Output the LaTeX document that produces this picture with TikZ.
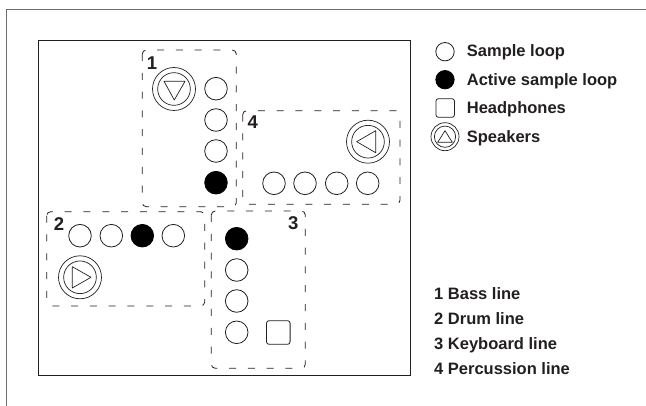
\documentclass[tikz,border=0pt]{standalone}
\usepackage{fontspec}
\setmainfont{Liberation Sans}
\definecolor{ink}{HTML}{231F20}
\tikzset{
  loopc/.style={circle,draw=ink,line width=0.8pt,minimum size=22.6pt,inner sep=0pt},
  active/.style={loopc,fill=black,draw=black},
  legc/.style={circle,draw=ink,line width=0.8pt,minimum size=18.4pt,inner sep=0pt},
  lega/.style={legc,fill=black,draw=black},
  zone/.style={draw=ink,line width=0.8pt,dash pattern=on 7pt off 11.8pt,rounded corners=4pt},
  frame/.style={draw=ink!65,line width=1.3pt},
  inner frame/.style={draw=ink,line width=1pt},
  lab/.style={font=\bfseries\fontsize{18.5pt}{20pt}\selectfont,text=ink,inner sep=0pt},
  txt/.style={font=\bfseries\fontsize{16.5pt}{18pt}\selectfont,text=ink,inner sep=0pt,anchor=base west},
  hp/.style={draw=ink,line width=0.8pt,rounded corners=2.5pt},
  spk/.style={draw=ink,line width=0.7pt},
}
\newcommand{\spkr}[3]{% name, centre, outer size
  \node[circle,spk,minimum size=#3pt,inner sep=0pt] (#1) at (#2) {};
  \node[circle,spk,minimum size=0.76*#3pt,inner sep=0pt] (#1i) at (#2) {};
}
\begin{document}
\begin{tikzpicture}[x=1pt,y=-1pt]
\useasboundingbox (0,0) rectangle (646,406);
\fill[white] (0,0) rectangle (646,406);
\draw[frame] (646,9.5) -- (6.5,9.5) -- (6.5,406);
\draw[inner frame] (38,41) rectangle (410,376);
\draw[zone] (142.3,50) rectangle (236.3,206.7);
\draw[zone] (242.7,110.7) rectangle (400,204.3);
\draw[zone] (46.7,211.7) rectangle (204.7,306);
\draw[zone] (211.3,211) rectangle (305.3,368.3);
\node[lab] (n1) at (152,62.7) {1};
\spkr{s1}{174,89}{43}
\draw[spk,line join=round] (164,81.3) -- (185,81.3) -- (174.3,100) -- cycle;
\node[loopc] (a1) at (216,88.7) {};
\node[loopc] (a2) at (216,120) {};
\node[loopc] (a3) at (216,151) {};
\node[active] (a4) at (216,182.7) {};
\node[lab] (n4) at (252.7,122.5) {4};
\spkr{s4}{368,141.7}{43}
\draw[spk,line join=round] (356.7,141.7) -- (375.7,130.7) -- (375.7,152.7) -- cycle;
\node[loopc] (d1) at (274,183.3) {};
\node[loopc] (d2) at (305,183.3) {};
\node[loopc] (d3) at (336.7,183.3) {};
\node[loopc] (d4) at (367.7,183.3) {};
\node[lab] (n2) at (59,224) {2};
\spkr{s2}{80,277.3}{43}
\draw[spk,line join=round] (72.3,266.7) -- (72.3,288) -- (91,277.3) -- cycle;
\node[loopc] (b1) at (80,235.7) {};
\node[loopc] (b2) at (111.3,235.7) {};
\node[active] (b3) at (142.3,235.7) {};
\node[loopc] (b4) at (173.3,235.7) {};
\node[lab] (n3) at (293.3,222.7) {3};
\node[active] (c1) at (236.7,238.7) {};
\node[loopc] (c2) at (236.7,270) {};
\node[loopc] (c3) at (236.7,301) {};
\node[loopc] (c4) at (236.7,332.3) {};
\node[hp,minimum size=23.6pt,inner sep=0pt] (h) at (278.3,332.5) {};
\node[legc] (l1) at (445,51.7) {};
\node[lega] (l2) at (445,79.7) {};
\node[hp,minimum size=18.6pt,inner sep=0pt] (l3) at (445.2,108) {};
\spkr{l4}{445,136.7}{28}
\draw[spk,line join=round] (437.7,142.3) -- (452.3,142.3) -- (445,130.7) -- cycle;
\node[txt] (t1) at (466.7,56.5) {Sample loop};
\node[txt] (t2) at (466.7,85.2) {Active sample loop};
\node[txt] (t3) at (466.7,114) {Headphones};
\node[txt] (t4) at (466.7,143) {Speakers};
\node[txt] (k1) at (434,299.5) {1 Bass line};
\node[txt] (k2) at (434,324.5) {2 Drum line};
\node[txt] (k3) at (434,349.5) {3 Keyboard line};
\node[txt] (k4) at (434,374.5) {4 Percussion line};
\end{tikzpicture}
\end{document}
